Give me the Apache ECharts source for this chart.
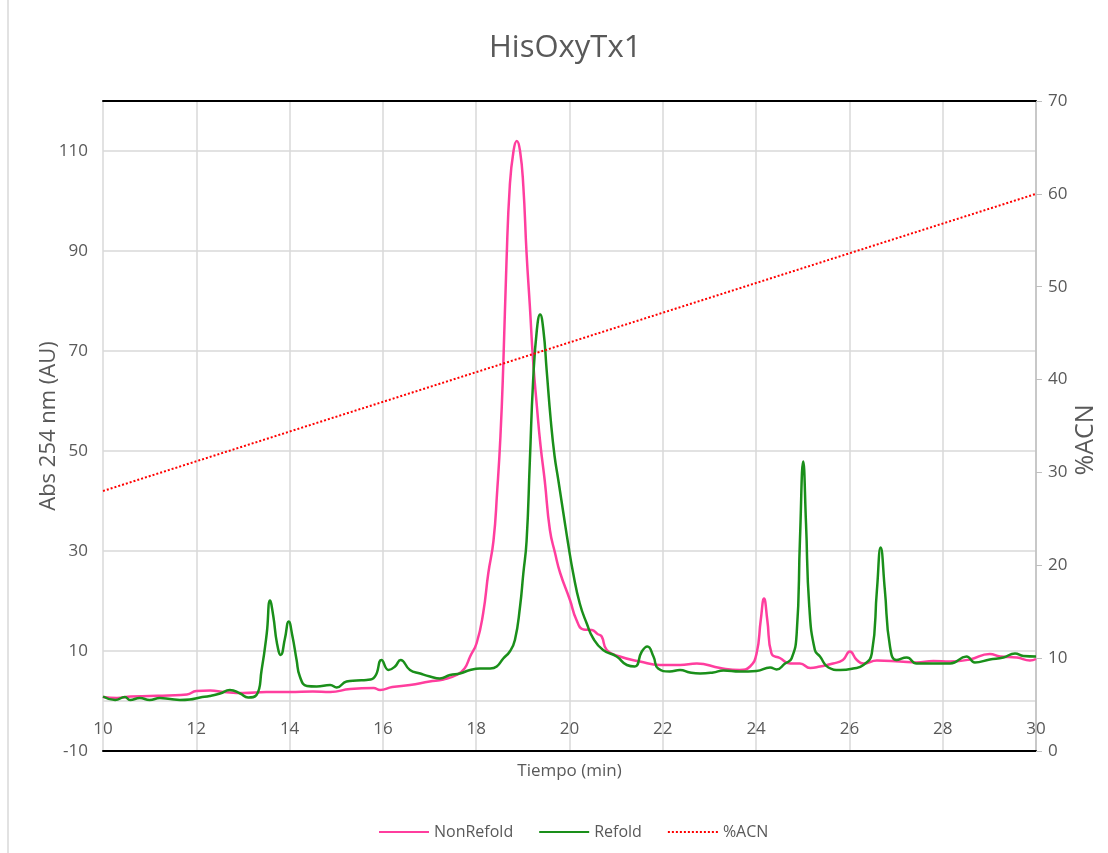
<!DOCTYPE html>
<html>
<head>
<meta charset="utf-8">
<title>HisOxyTx1</title>
<script src="https://cdn.jsdelivr.net/npm/echarts@6/dist/echarts.min.js"></script>
<style>
  html, body { margin: 0; padding: 0; background: #fff; }
  #chart { width: 1108px; height: 853px; }
</style>
</head>
<body>
<div id="chart"></div>
<script>
// retention time (min) and absorbance
const nonRefoldTime = [10.0, 10.3, 10.6, 11.0, 11.4, 11.8, 12.0, 12.3, 12.6, 13.0, 13.5, 14.0, 14.5, 14.87, 15.3, 15.8, 15.94, 16.2, 16.58, 17.0, 17.3, 17.58, 17.75, 17.87, 18.01, 18.15, 18.26, 18.37, 18.45, 18.52, 18.58, 18.65, 18.72, 18.8, 18.87, 18.94, 19.01, 19.08, 19.15, 19.22, 19.3, 19.38, 19.47, 19.58, 19.69, 19.8, 20.01, 20.15, 20.3, 20.48, 20.6, 20.69, 20.8, 21.08, 21.51, 21.94, 22.37, 22.73, 23.23, 23.65, 23.87, 24.01, 24.1, 24.17, 24.24, 24.33, 24.51, 24.73, 24.94, 25.16, 25.37, 25.65, 25.86, 26.01, 26.16, 26.3, 26.59, 27.08, 27.44, 27.8, 28.16, 28.58, 29.01, 29.23, 29.59, 29.87, 30.0]
const nonRefoldAbs = [0.8, 0.6, 0.9, 1.0, 1.1, 1.3, 2.0, 2.1, 1.8, 1.6, 1.8, 1.8, 1.9, 1.8, 2.4, 2.6, 2.2, 2.8, 3.2, 3.9, 4.3, 5.2, 6.5, 8.9, 11.6, 17.6, 25.6, 32, 42, 53, 67, 88, 103, 110, 112, 110, 103, 89.5, 79, 68, 59, 51, 44, 34.2, 29.6, 25.6, 20.2, 16.2, 14.3, 14.2, 13.4, 12.9, 10.2, 8.9, 7.9, 7.2, 7.2, 7.5, 6.6, 6.2, 6.9, 9.5, 16.2, 20.5, 16.2, 9.5, 8.6, 7.5, 7.5, 6.6, 6.9, 7.5, 8.2, 9.9, 8.2, 7.5, 8.1, 7.9, 7.7, 8.0, 7.9, 8.3, 9.4, 8.9, 8.7, 8.1, 8.4]

const refoldTime = [10.0, 10.26, 10.47, 10.58, 10.79, 11.0, 11.22, 11.44, 11.65, 11.86, 12.08, 12.29, 12.51, 12.72, 12.94, 13.11, 13.29, 13.4, 13.51, 13.58, 13.65, 13.73, 13.81, 13.9, 13.98, 14.06, 14.15, 14.22, 14.37, 14.58, 14.87, 15.01, 15.22, 15.44, 15.65, 15.83, 15.97, 16.12, 16.26, 16.38, 16.58, 16.8, 17.01, 17.22, 17.44, 17.65, 17.87, 18.08, 18.3, 18.44, 18.58, 18.72, 18.83, 18.94, 19.01, 19.08, 19.15, 19.22, 19.3, 19.37, 19.44, 19.51, 19.6, 19.68, 19.76, 19.87, 19.97, 20.08, 20.22, 20.37, 20.51, 20.72, 21.01, 21.23, 21.4, 21.55, 21.67, 21.8, 21.9, 22.15, 22.37, 22.58, 22.8, 23.08, 23.3, 23.65, 24.01, 24.3, 24.44, 24.62, 24.76, 24.87, 24.94, 25.01, 25.07, 25.14, 25.26, 25.37, 25.55, 25.8, 26.08, 26.3, 26.48, 26.59, 26.67, 26.76, 26.87, 27.01, 27.23, 27.44, 27.8, 28.16, 28.51, 28.69, 29.01, 29.3, 29.55, 29.73, 30.0]
const refoldAbs = [0.9, 0.2, 0.8, 0.2, 0.6, 0.2, 0.6, 0.4, 0.2, 0.3, 0.7, 1.0, 1.5, 2.2, 1.5, 0.7, 1.2, 6.2, 13.5, 20.1, 17, 11.5, 9.2, 12.5, 15.9, 13, 8.2, 4.9, 3.0, 2.9, 3.2, 2.7, 3.9, 4.1, 4.2, 4.9, 8.2, 6.2, 6.9, 8.2, 6.2, 5.5, 4.9, 4.5, 5.2, 5.5, 6.2, 6.5, 6.5, 6.9, 8.5, 9.9, 12.2, 18.9, 25.5, 32, 48, 64, 74.2, 77.3, 74.2, 66.2, 56, 49, 44.2, 37.5, 31.5, 25.5, 19.5, 15.5, 12.5, 10.2, 8.9, 7.2, 6.9, 9.9, 10.9, 8.9, 6.5, 5.9, 6.2, 5.7, 5.5, 5.7, 6.1, 5.9, 6.0, 6.7, 6.3, 7.5, 8.5, 13.5, 32.2, 47.9, 35.5, 18.9, 10.2, 8.9, 6.7, 6.2, 6.5, 7.2, 9.5, 22.2, 30.7, 22.2, 10.9, 8.2, 8.7, 7.5, 7.5, 7.5, 8.9, 7.7, 8.3, 8.7, 9.5, 9.0, 8.9]

// gradient of acetonitrile (%), linear between its ends
const acnTime = [10, 30]
const acnPct = [28, 60]

const zip = (xs, ys) => xs.map((x, i) => [x, ys[i]])

const textColor = '#595959'
const gridColor = '#d9d9d9'
const font = 'Open Sans, sans-serif'

// left axis ticks every 10 from -10 to 120: labels and gridlines on -10, 10, 30 ...
// plus the zero line, nothing on the other even tens
const absLineColors = [gridColor, gridColor, gridColor, 'transparent', gridColor, 'transparent', gridColor,
  'transparent', gridColor, 'transparent', gridColor, 'transparent', gridColor, 'transparent']

const myChart = echarts.init(document.getElementById('chart'))
myChart.setOption({
  backgroundColor: '#fff',
  animation: false,
  title: {
    text: 'HisOxyTx1',
    left: 484,
    top: 28,
    textStyle: { color: textColor, fontSize: 31, fontWeight: 'normal', fontFamily: font }
  },
  legend: {
    bottom: 8,
    left: 373,
    itemWidth: 50,
    itemHeight: 12,
    itemGap: 25,
    itemStyle: { opacity: 0 },
    textStyle: { color: textColor, fontSize: 16, fontFamily: font },
    data: ['NonRefold', 'Refold', '%ACN']
  },
  graphic: [{
    type: 'line',
    shape: { x1: 8, y1: 0, x2: 8, y2: 853 },
    style: { stroke: gridColor, lineWidth: 1.5 }
  }],
  grid: { left: 103, right: 72, top: 101, bottom: 102, outerBoundsMode: 'none' },
  xAxis: [
    {
      type: 'value',
      min: 10,
      max: 30,
      interval: 2,
      name: 'Tiempo (min)',
      nameLocation: 'middle',
      nameGap: 12,
      nameTextStyle: { color: textColor, fontSize: 17, fontFamily: font },
      axisLine: { onZero: false, lineStyle: { color: '#000', width: 2 } },
      axisTick: { show: false },
      axisLabel: { color: textColor, fontSize: 17, fontFamily: font, margin: -30 },
      splitLine: { show: true, lineStyle: { color: gridColor, width: 1.5 } }
    },
    {
      // top frame line
      type: 'value', min: 10, max: 30, position: 'top',
      axisLine: { onZero: false, lineStyle: { color: '#000', width: 2 } },
      axisTick: { show: false }, axisLabel: { show: false }, splitLine: { show: false }
    }
  ],
  yAxis: [
    {
      type: 'value',
      min: -10,
      max: 120,
      interval: 10,
      name: 'Abs 254 nm (AU)',
      nameLocation: 'middle',
      nameGap: 43,
      nameMoveOverlap: false,
      nameTextStyle: { color: textColor, fontSize: 22, fontFamily: font },
      axisLine: { show: false },
      axisTick: { show: false },
      axisLabel: {
        color: textColor,
        fontSize: 17,
        fontFamily: font,
        margin: 15,
        formatter: (v) => (v % 20 === 0 ? '' : String(v))
      },
      splitLine: { show: true, lineStyle: { color: absLineColors, width: 1.5 } }
    },
    {
      type: 'value',
      min: 0,
      max: 70,
      interval: 10,
      position: 'right',
      name: '%ACN',
      nameLocation: 'middle',
      nameGap: 37,
      nameMoveOverlap: false,
      nameTextStyle: { color: textColor, fontSize: 25, fontFamily: font, padding: [0, 28, 0, 0] },
      axisLine: { show: true, lineStyle: { color: '#bfbfbf', width: 1.5 } },
      axisTick: { show: true, length: 6, lineStyle: { color: '#bfbfbf' } },
      axisLabel: { color: textColor, fontSize: 17, fontFamily: font, margin: 12 },
      splitLine: { show: false }
    }
  ],
  series: [
    {
      name: 'NonRefold',
      type: 'line',
      data: zip(nonRefoldTime, nonRefoldAbs),
      symbol: 'none',
      smooth: 0.5,
      lineStyle: { color: '#ff3e9e', width: 2.5 },
      itemStyle: { color: '#ff3e9e' },
      z: 3
    },
    {
      name: 'Refold',
      type: 'line',
      data: zip(refoldTime, refoldAbs),
      symbol: 'none',
      smooth: 0.5,
      lineStyle: { color: '#1a8f1a', width: 2.5 },
      itemStyle: { color: '#1a8f1a' },
      z: 4
    },
    {
      name: '%ACN',
      type: 'line',
      yAxisIndex: 1,
      data: zip(acnTime, acnPct),
      symbol: 'none',
      lineStyle: { color: '#ff0000', width: 2, type: 'dotted' },
      itemStyle: { color: '#ff0000' },
      z: 5
    }
  ]
})
</script>
</body>
</html>
